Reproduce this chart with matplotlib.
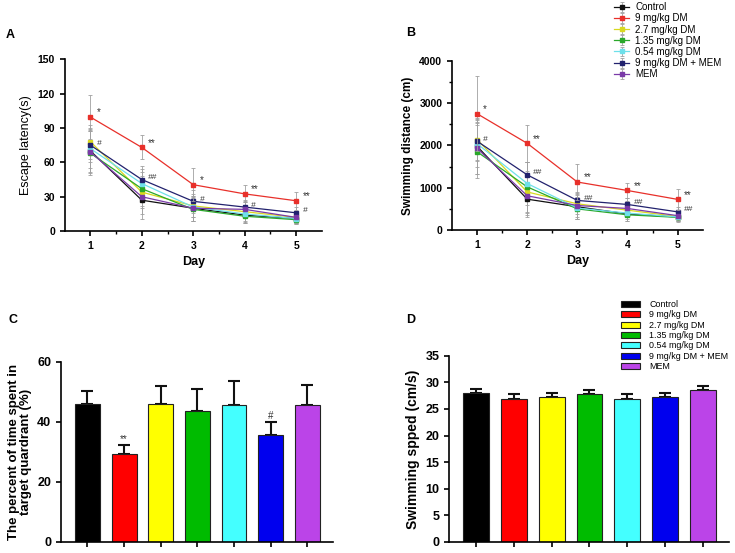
import matplotlib
matplotlib.use("Agg")
import matplotlib.pyplot as plt
import numpy as np

plt.rcParams['font.family'] = ['Liberation Sans', 'DejaVu Sans']

groups = ["Control", "9 mg/kg DM", "2.7 mg/kg DM", "1.35 mg/kg DM",
          "0.54 mg/kg DM", "9 mg/kg DM + MEM", "MEM"]
line_colors = ["#111111", "#e8302a", "#d8d820", "#2aa82a", "#6ee0ea", "#22226e", "#7a3aa8"]
bar_colors = ["#000000", "#ff0000", "#ffff00", "#00bb00", "#44ffff", "#0000ee", "#bb44e8"]

days = [1, 2, 3, 4, 5]

# A: escape latency (s)
latency = [
    [70, 27, 20, 14, 11],
    [99.5, 73, 40.5, 32.5, 26.5],
    [78, 34, 22, 17, 12],
    [68, 37, 19, 13, 10],
    [72, 41.5, 21, 15, 11],
    [75, 45, 26, 21, 16],
    [69, 30, 20, 19, 12],
]
latency_err = [
    [18, 16, 11, 7, 4],
    [19, 10.5, 14.5, 7.5, 8],
    [15, 14, 10, 8, 5],
    [19, 15, 10, 6, 4],
    [17, 13, 9, 7, 5],
    [15, 12, 10, 6, 5],
    [18, 15, 11, 7, 5],
]
lat_ann_red = ["*", "**", "*", "**", "**"]
lat_ann_mem = ["#", "##", "#", "#", "#"]

# B: swimming distance (cm)
distance = [
    [1980, 730, 550, 380, 310],
    [2750, 2050, 1135, 935, 725],
    [2140, 900, 620, 470, 320],
    [1850, 1020, 500, 360, 300],
    [2040, 1100, 520, 400, 310],
    [2100, 1305, 700, 605, 430],
    [1930, 810, 580, 510, 340],
]
distance_err = [
    [650, 415, 300, 160, 110],
    [880, 430, 430, 170, 240],
    [500, 500, 250, 170, 100],
    [630, 600, 250, 140, 90],
    [550, 500, 260, 150, 100],
    [450, 300, 190, 150, 120],
    [600, 450, 260, 170, 110],
]
dist_ann_red = ["*", "**", "**", "**", "**"]
dist_ann_mem = ["#", "##", "##", "##", "##"]

# C: time in target quadrant (%)
quadrant = [45.8, 29.2, 45.9, 43.6, 45.6, 35.6, 45.6]
quadrant_err = [4.4, 3.2, 6.0, 7.3, 8.0, 4.4, 6.7]
quadrant_ann = ["", "**", "", "", "", "#", ""]

# D: swimming speed (cm/s)
speed = [27.96, 26.9, 27.33, 27.84, 26.96, 27.27, 28.65]
speed_err = [0.8, 0.87, 0.76, 0.75, 0.88, 0.82, 0.63]

fig = plt.figure(figsize=(7.35, 5.53), dpi=100)


def style_axes(ax, tick_size):
    ax.spines['top'].set_visible(False)
    ax.spines['right'].set_visible(False)
    ax.spines['left'].set_linewidth(1.2)
    ax.spines['bottom'].set_linewidth(1.2)
    ax.tick_params(width=1.2, length=3.5, labelsize=tick_size)
    for lab in ax.get_xticklabels() + ax.get_yticklabels():
        lab.set_fontweight('bold')


def line_panel(ax, data, err, ann_red, ann_mem, ymax, step, off):
    for i in range(len(groups)):
        ax.errorbar(days, data[i], yerr=err[i], color=line_colors[i], lw=0.9,
                    marker='s', ms=2.5, ecolor='#a0a0a0', elinewidth=0.6,
                    capsize=1.5, capthick=0.6, label=groups[i], zorder=3 if i == 1 else 2)
    for d in range(5):
        ax.text(days[d] + 0.12, data[1][d] + off, ann_red[d], fontsize=7, color='#333333')
        ax.text(days[d] + 0.12, data[5][d] + off * 0.3, ann_mem[d], fontsize=6,
                color='#333333', style='italic')
    ax.set_xlim(0.5, 5.5)
    ax.set_ylim(0, ymax)
    ax.set_xticks(days)
    ax.set_xticks([1.5, 2.5, 3.5, 4.5], minor=True)
    ax.set_yticks(np.arange(0, ymax + 1, step))
    ax.tick_params(which='minor', width=1.0, length=2.5)
    ax.set_xlabel("Day", fontsize=9, fontweight='bold')
    style_axes(ax, 7.5)


axA = fig.add_axes([0.088, 0.582, 0.350, 0.311])
line_panel(axA, latency, latency_err, lat_ann_red, lat_ann_mem, 150, 30, 1.5)
axA.set_ylabel("Escape latency(s)", fontsize=9)

axB = fig.add_axes([0.615, 0.584, 0.341, 0.306])
line_panel(axB, distance, distance_err, dist_ann_red, dist_ann_mem, 4000, 1000, 40)
axB.set_yticks(np.arange(500, 4000, 1000), minor=True)
axB.set_ylabel("Swimming distance (cm)", fontsize=8.5, fontweight='bold')

handles, labels = axB.get_legend_handles_labels()
fig.legend(handles, labels, loc='upper left', bbox_to_anchor=(0.83, 1.003),
           fontsize=7, frameon=False, handlelength=1.6, handletextpad=0.6,
           labelspacing=0.12, borderaxespad=0)

x = np.arange(len(groups))


def bar_panel(ax, vals, errs, ymax, step):
    ax.bar(x, vals, width=0.68, color=bar_colors, edgecolor='#222222', linewidth=0.8,
           label=groups, zorder=2)
    ax.errorbar(x, vals, yerr=[np.zeros(len(vals)), errs], fmt='none', ecolor='#111111',
                elinewidth=1.5, capsize=4, capthick=1.5, zorder=1)
    ax.set_xlim(-0.72, 6.7)
    ax.set_ylim(0, ymax)
    ax.set_xticks(x)
    ax.set_xticklabels([])
    ax.set_yticks(np.arange(0, ymax + 1, step))
    style_axes(ax, 9)


axC = fig.add_axes([0.083, 0.0204, 0.370, 0.3255])
bar_panel(axC, quadrant, quadrant_err, 60, 20)
for i in range(len(groups)):
    if quadrant_ann[i]:
        axC.text(x[i], quadrant[i] + quadrant_err[i] + 0.8, quadrant_ann[i],
                 ha='center', fontsize=7, color='#333333')
axC.set_ylabel("The percent of time spent in\ntarget quardrant (%)", fontsize=9.5,
               fontweight='bold', linespacing=1.0)

axD = fig.add_axes([0.611, 0.0204, 0.381, 0.336])
bar_panel(axD, speed, speed_err, 35, 5)
axD.set_ylabel("Swimming spped (cm/s)", fontsize=10, fontweight='bold')
axD.legend(loc='upper left', bbox_to_anchor=(0.6, 1.32), fontsize=6.4, frameon=False,
           handlelength=2.2, handleheight=0.65, handletextpad=1.0, labelspacing=0.15,
           borderaxespad=0)

for lbl, xp, yp in [("A", 0.008, 0.937), ("B", 0.552, 0.94), ("C", 0.012, 0.421),
                    ("D", 0.552, 0.421)]:
    fig.text(xp, yp, lbl, fontsize=9, fontweight='bold', va='center')

fig.savefig("out.png", dpi=100)
